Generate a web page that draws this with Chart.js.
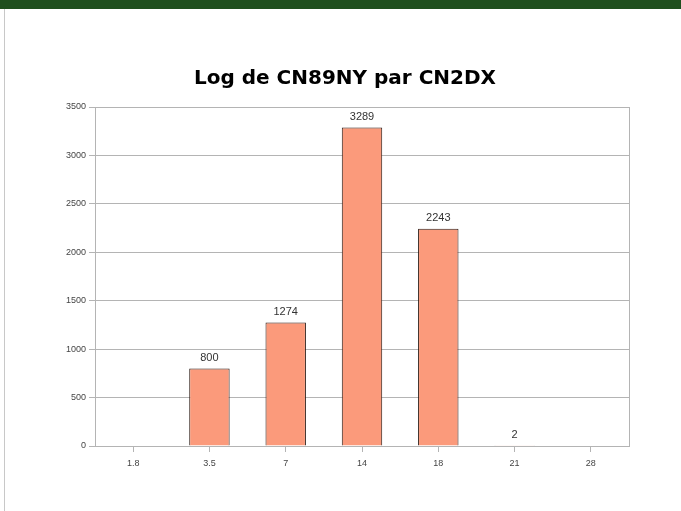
<!DOCTYPE html>
<html>
<head>
<meta charset="utf-8">
<script src="https://cdn.jsdelivr.net/npm/chart.js@4.4.0/dist/chart.umd.min.js"></script>
<style>
html,body{margin:0;padding:0;background:#fff;}
#wrap{position:relative;width:681px;height:511px;overflow:hidden;background:#fff;}
#band{position:absolute;left:0;top:0;width:681px;height:9px;background:#1f4f1e;}
#lborder{position:absolute;left:4px;top:9px;width:1px;height:502px;background:#c8c8c8;}
#cv{position:absolute;left:0;top:0;}
</style>
</head>
<body>
<div id="wrap">
<canvas id="cv" width="681" height="511"></canvas>
<div id="band"></div>
<div id="lborder"></div>
</div>
<script>
const categories = ["1.8", "3.5", "7", "14", "18", "21", "28"];
const qsoCounts = [null, 800, 1274, 3289, 2243, 2, null];
const yTicks = [0, 500, 1000, 1500, 2000, 2500, 3000, 3500];
const chartTitle = "Log de CN89NY par CN2DX";

const labelPlugin = {
  id: 'barLabels',
  afterDatasetsDraw(chart) {
    const ctx = chart.ctx;
    const meta = chart.getDatasetMeta(0);
    ctx.save();
    ctx.font = '11px "Liberation Sans", Arial, sans-serif';
    ctx.fillStyle = '#333';
    ctx.textAlign = 'center';
    ctx.textBaseline = 'bottom';
    meta.data.forEach((bar, i) => {
      const v = chart.data.datasets[0].data[i];
      if (v === null || v === undefined) return;
      ctx.fillText(String(v), bar.x, bar.y - 5);
    });
    ctx.restore();
  }
};
const borderPlugin = {
  id: 'plotBorder',
  beforeDatasetsDraw(chart) {
    const a = chart.chartArea, ctx = chart.ctx;
    ctx.save();
    ctx.strokeStyle = '#b4b4b4';
    ctx.lineWidth = 1;
    ctx.strokeRect(Math.round(a.left) + 0.5, Math.round(a.top) + 0.5, Math.round(a.right - a.left), Math.round(a.bottom - a.top));
    ctx.restore();
  }
};

new Chart(document.getElementById('cv'), {
  type: 'bar',
  data: {
    labels: categories,
    datasets: [{
      data: qsoCounts,
      backgroundColor: '#fb9a7b',
      borderColor: '#2a1a14',
      borderWidth: 1,
      categoryPercentage: 1,
      barPercentage: 0.53
    }]
  },
  options: {
    responsive: false,
    animation: false,
    layout: { padding: { left: 61, right: 52, top: 67, bottom: 35 } },
    plugins: {
      legend: { display: false },
      tooltip: { enabled: false },
      title: {
        display: true,
        text: chartTitle,
        color: '#000',
        font: { family: '"DejaVu Sans", sans-serif', size: 20, weight: 'bold' },
        padding: { top: 0, bottom: 16 }
      }
    },
    scales: {
      x: {
        grid: { display: true, drawOnChartArea: false, offset: false, tickLength: 6, color: '#b4b4b4' },
        border: { display: true, color: '#9a9a9a' },
        ticks: { color: '#444', font: { family: '"Liberation Sans", Arial, sans-serif', size: 9 }, padding: 6, maxRotation: 0 },
        afterFit(s) { s.height = 30; }
      },
      y: {
        min: 0, max: 3500,
        afterBuildTicks(s) { s.ticks = yTicks.map(v => ({ value: v })); },
        grid: { color: '#b4b4b4', tickLength: 6 },
        border: { display: true, color: '#b4b4b4' },
        ticks: { color: '#444', font: { family: '"Liberation Sans", Arial, sans-serif', size: 9 }, padding: 3, callback: v => String(v) },
        afterFit(s) { s.width = 34; }
      }
    }
  },
  plugins: [labelPlugin, borderPlugin]
});
</script>
</body>
</html>
